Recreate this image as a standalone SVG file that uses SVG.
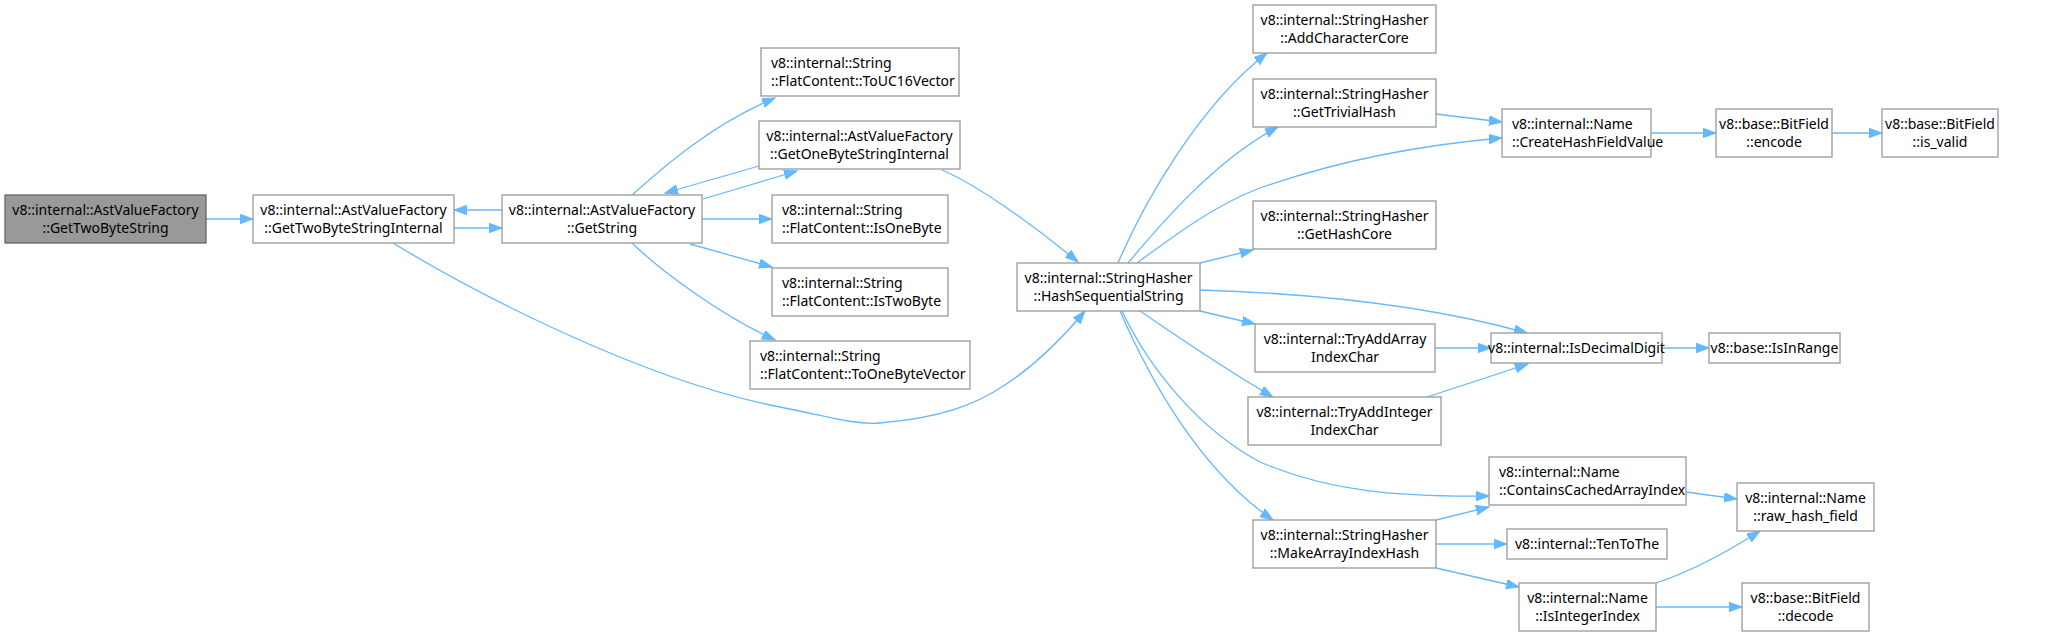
<svg xmlns="http://www.w3.org/2000/svg" width="2059" height="637" viewBox="0 0 2059 637">
<style>
.n rect{fill:#ffffff;stroke:#999999;stroke-width:1.3}
.n.h rect{fill:#999999;stroke:#666666}
.n text{font-family:"Noto Sans","DejaVu Sans",sans-serif;font-size:14px;fill:#000000}
.c{text-anchor:middle}
.e path{fill:none;stroke:#63b8ff;stroke-width:1.3;marker-end:url(#a)}
</style>
<defs>
<marker id="a" markerUnits="userSpaceOnUse" markerWidth="14" markerHeight="10" refX="13" refY="4.7" orient="auto">
<path d="M0,0 L13,4.7 L0,9.4 Z" fill="#63b8ff" stroke="#63b8ff" stroke-width="1"/>
</marker>
</defs>
<rect width="2059" height="637" fill="#ffffff"/>
<g class="e" id="connectors">
<path d="M206,219 L253,219"/>
<path d="M454,228 L502,228"/>
<path d="M502,210 L454,210"/>
<path d="M632,195 C660,170 710,125 775,98"/>
<path d="M703,199 L797,171"/>
<path d="M759,166 L665,193"/>
<path d="M702,219 L772,219"/>
<path d="M690,244 L772,267"/>
<path d="M632,243 C660,270 720,315 775,340"/>
<path d="M942,170 C975,184 1030,222 1078,262"/>
<path d="M393,243 C470,290 640,380 780,407 C830,417 855,425 880,423 C940,418 975,405 1005,385 C1040,362 1065,335 1085,311"/>
<path d="M1118,263 C1145,200 1200,105 1267,53"/>
<path d="M1128,263 C1160,225 1215,160 1278,127"/>
<path d="M1137,263 C1175,235 1215,205 1260,188 C1340,160 1420,145 1502,138"/>
<path d="M1200,263 L1253,250"/>
<path d="M1200,290 C1300,293 1420,303 1527,333"/>
<path d="M1200,311 L1255,324"/>
<path d="M1140,311 C1175,335 1230,372 1273,397"/>
<path d="M1122,311 C1150,370 1200,430 1260,462 C1330,492 1400,497 1489,496"/>
<path d="M1120,311 C1150,380 1200,470 1273,520"/>
<path d="M1435,348 L1491,348"/>
<path d="M1427,397 L1528,364"/>
<path d="M1662,348 L1709,348"/>
<path d="M1436,114 L1502,122"/>
<path d="M1651,133 L1716,133"/>
<path d="M1832,133 L1882,133"/>
<path d="M1436,520 L1489,507"/>
<path d="M1436,544 L1507,544"/>
<path d="M1436,568 L1519,587"/>
<path d="M1686,492 L1737,499"/>
<path d="M1656,583 C1690,572 1730,550 1760,531"/>
<path d="M1656,607 L1742,607"/>
</g>
<g class="n h" id="GetTwoByteString"><rect x="5" y="195" width="201" height="48"/><text class="c" x="105.5" y="214.5">v8::internal::AstValueFactory</text><text class="c" x="105.5" y="233">::GetTwoByteString</text></g>
<g class="n" id="GetTwoByteStringInternal"><rect x="253" y="195" width="201" height="48"/><text class="c" x="353.5" y="214.5">v8::internal::AstValueFactory</text><text class="c" x="353.5" y="233">::GetTwoByteStringInternal</text></g>
<g class="n" id="GetString"><rect x="502" y="195" width="200" height="48"/><text class="c" x="602" y="214.5">v8::internal::AstValueFactory</text><text class="c" x="602" y="233">::GetString</text></g>
<g class="n" id="ToUC16Vector"><rect x="761" y="48" width="198" height="48"/><text x="771" y="67.5">v8::internal::String</text><text x="771" y="86">::FlatContent::ToUC16Vector</text></g>
<g class="n" id="GetOneByteStringInternal"><rect x="759" y="121" width="201" height="48"/><text class="c" x="859.5" y="140.5">v8::internal::AstValueFactory</text><text class="c" x="859.5" y="159">::GetOneByteStringInternal</text></g>
<g class="n" id="IsOneByte"><rect x="772" y="195" width="176" height="48"/><text x="782" y="214.5">v8::internal::String</text><text x="782" y="233">::FlatContent::IsOneByte</text></g>
<g class="n" id="IsTwoByte"><rect x="772" y="268" width="176" height="48"/><text x="782" y="287.5">v8::internal::String</text><text x="782" y="306">::FlatContent::IsTwoByte</text></g>
<g class="n" id="ToOneByteVector"><rect x="750" y="341" width="220" height="48"/><text x="760" y="360.5">v8::internal::String</text><text x="760" y="379">::FlatContent::ToOneByteVector</text></g>
<g class="n" id="HashSequentialString"><rect x="1017" y="263" width="183" height="48"/><text class="c" x="1108.5" y="282.5">v8::internal::StringHasher</text><text class="c" x="1108.5" y="301">::HashSequentialString</text></g>
<g class="n" id="AddCharacterCore"><rect x="1253" y="5" width="183" height="48"/><text class="c" x="1344.5" y="24.5">v8::internal::StringHasher</text><text class="c" x="1344.5" y="43">::AddCharacterCore</text></g>
<g class="n" id="GetTrivialHash"><rect x="1253" y="79" width="183" height="48"/><text class="c" x="1344.5" y="98.5">v8::internal::StringHasher</text><text class="c" x="1344.5" y="117">::GetTrivialHash</text></g>
<g class="n" id="GetHashCore"><rect x="1253" y="201" width="183" height="48"/><text class="c" x="1344.5" y="220.5">v8::internal::StringHasher</text><text class="c" x="1344.5" y="239">::GetHashCore</text></g>
<g class="n" id="TryAddArrayIndexChar"><rect x="1255" y="324" width="180" height="48"/><text class="c" x="1345" y="343.5">v8::internal::TryAddArray</text><text class="c" x="1345" y="362">IndexChar</text></g>
<g class="n" id="TryAddIntegerIndexChar"><rect x="1248" y="397" width="193" height="48"/><text class="c" x="1344.5" y="416.5">v8::internal::TryAddInteger</text><text class="c" x="1344.5" y="435">IndexChar</text></g>
<g class="n" id="MakeArrayIndexHash"><rect x="1253" y="520" width="183" height="48"/><text class="c" x="1344.5" y="539.5">v8::internal::StringHasher</text><text class="c" x="1344.5" y="558">::MakeArrayIndexHash</text></g>
<g class="n" id="CreateHashFieldValue"><rect x="1502" y="109" width="149" height="48"/><text x="1512" y="128.5">v8::internal::Name</text><text x="1512" y="147">::CreateHashFieldValue</text></g>
<g class="n" id="encode"><rect x="1716" y="109" width="116" height="48"/><text class="c" x="1774" y="128.5">v8::base::BitField</text><text class="c" x="1774" y="147">::encode</text></g>
<g class="n" id="is_valid"><rect x="1882" y="109" width="116" height="48"/><text class="c" x="1940" y="128.5">v8::base::BitField</text><text class="c" x="1940" y="147">::is_valid</text></g>
<g class="n" id="IsDecimalDigit"><rect x="1491" y="333" width="171" height="30"/><text class="c" x="1576.5" y="352.5">v8::internal::IsDecimalDigit</text></g>
<g class="n" id="IsInRange"><rect x="1709" y="333" width="131" height="30"/><text class="c" x="1774.5" y="352.5">v8::base::IsInRange</text></g>
<g class="n" id="ContainsCachedArrayIndex"><rect x="1489" y="457" width="197" height="48"/><text x="1499" y="476.5">v8::internal::Name</text><text x="1499" y="495">::ContainsCachedArrayIndex</text></g>
<g class="n" id="raw_hash_field"><rect x="1737" y="483" width="137" height="48"/><text class="c" x="1805.5" y="502.5">v8::internal::Name</text><text class="c" x="1805.5" y="521">::raw_hash_field</text></g>
<g class="n" id="TenToThe"><rect x="1507" y="529" width="160" height="30"/><text class="c" x="1587" y="548.5">v8::internal::TenToThe</text></g>
<g class="n" id="IsIntegerIndex"><rect x="1519" y="583" width="137" height="48"/><text class="c" x="1587.5" y="602.5">v8::internal::Name</text><text class="c" x="1587.5" y="621">::IsIntegerIndex</text></g>
<g class="n" id="decode"><rect x="1742" y="583" width="127" height="48"/><text class="c" x="1805.5" y="602.5">v8::base::BitField</text><text class="c" x="1805.5" y="621">::decode</text></g>
</svg>
